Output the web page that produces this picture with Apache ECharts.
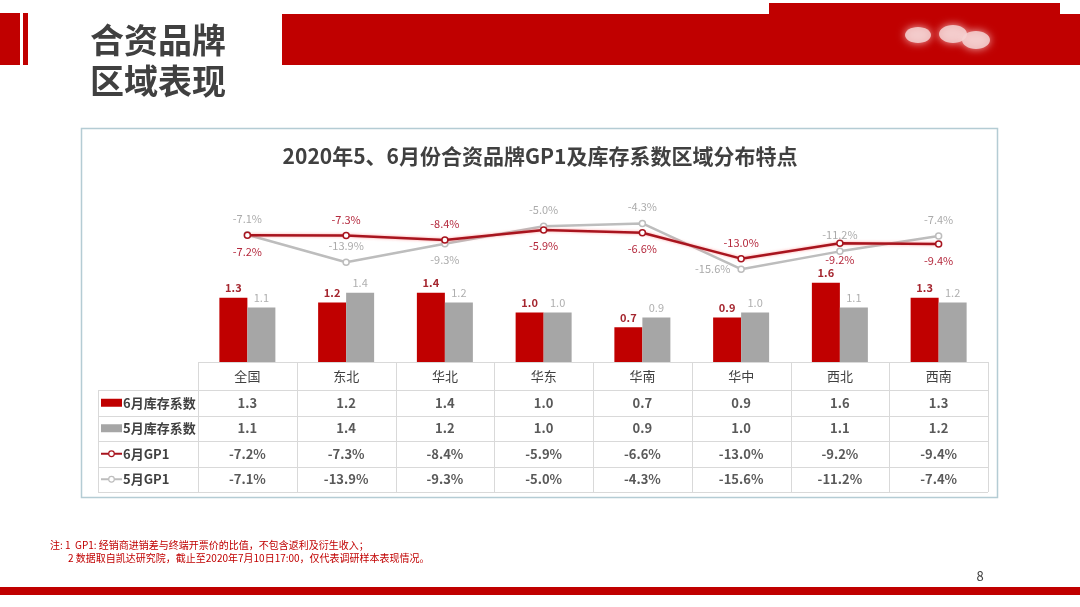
<!DOCTYPE html>
<html><head><meta charset="utf-8">
<script src="https://cdn.jsdelivr.net/npm/echarts@6/dist/echarts.min.js"></script>
<style>html,body{margin:0;padding:0;background:#fff}#c{width:1080px;height:607px}</style>
</head><body><div id="c"></div>
<script>
// ---------- data ----------
const categories = ['全国','东北','华北','华东','华南','华中','西北','西南'];
const stockJune = [1.3,1.2,1.4,1.0,0.7,0.9,1.6,1.3];
const stockMay  = [1.1,1.4,1.2,1.0,0.9,1.0,1.1,1.2];
const gp1June   = [-7.2,-7.3,-8.4,-5.9,-6.6,-13.0,-9.2,-9.4];
const gp1May    = [-7.1,-13.9,-9.3,-5.0,-4.3,-15.6,-11.2,-7.4];
const seriesNames = ['6月库存系数','5月库存系数','6月GP1','5月GP1'];
const chartTitle = '2020年5、6月份合资品牌GP1及库存系数区域分布特点';
const pageTitle = ['合资品牌','区域表现'];
const notes = ['注: 1  GP1: 经销商进销差与终端开票价的比值，不包含返利及衍生收入；',
               '2 数据取自凯达研究院，截止至2020年7月10日17:00，仅代表调研样本表现情况。'];
const pageNumber = '8';

// ---------- style ----------
const FONT = '"Noto Sans CJK SC","Microsoft YaHei",sans-serif';
const RED = '#C00000', GRAY = '#A6A6A6', LRED = '#A8141E', LGRAY = '#BDBDBD';
const gpJunePos = ['bottom','top','top','bottom','bottom','top','bottom','bottom'];
const gpMayPos  = ['top','top','bottom','top','top','left','top','top'];

const chart = echarts.init(document.getElementById('c'), null, {renderer:'canvas'});

function lineData(vals, pos){
  return vals.map((v,i)=>({value:v, label:{position:pos[i]}}));
}

const option = {
  backgroundColor:'#fff',
  animation:false,
  title:{text:chartTitle,left:'center',top:141,
    textStyle:{fontFamily:FONT,fontSize:21,fontWeight:'bold',color:'#404040'}},
  grid:[
    {left:198,right:92,top:164,bottom:245},
    {left:198,right:92,top:206,bottom:320}
  ],
  xAxis:[
    {type:'category',data:categories,gridIndex:0,show:false},
    {type:'category',data:categories,gridIndex:1,show:false}
  ],
  yAxis:[
    {type:'value',gridIndex:0,min:0,max:4,show:false},
    {type:'value',gridIndex:1,min:-20,max:0,show:false}
  ],
  series:[
    {name:seriesNames[0],type:'bar',xAxisIndex:0,yAxisIndex:0,data:stockJune,
      barWidth:28,barGap:'0%',itemStyle:{color:RED},
      label:{show:true,position:'top',distance:4,formatter:p=>p.value.toFixed(1),
        fontFamily:FONT,fontSize:11,fontWeight:'bold',color:'#A5262F'}},
    {name:seriesNames[1],type:'bar',xAxisIndex:0,yAxisIndex:0,data:stockMay,
      barWidth:28,barGap:'0%',itemStyle:{color:GRAY},
      label:{show:true,position:'top',distance:4,formatter:p=>p.value.toFixed(1),
        fontFamily:FONT,fontSize:11,color:'#AFAFAF'}},
    {name:seriesNames[3],type:'line',xAxisIndex:1,yAxisIndex:1,data:lineData(gp1May,gpMayPos),
      symbol:'circle',symbolSize:6,z:3,
      lineStyle:{color:LGRAY,width:2.5},
      itemStyle:{color:'#fff',borderColor:LGRAY,borderWidth:1.5},
      label:{show:true,distance:7,formatter:p=>p.value.toFixed(1)+'%',
        fontFamily:FONT,fontSize:11,color:'#ABABAB'}},
    {name:seriesNames[2],type:'line',xAxisIndex:1,yAxisIndex:1,data:lineData(gp1June,gpJunePos),
      symbol:'circle',symbolSize:6,z:4,
      lineStyle:{color:LRED,width:2.5,shadowColor:'rgba(255,120,120,0.7)',shadowBlur:3},
      itemStyle:{color:'#fff',borderColor:LRED,borderWidth:1.5},
      label:{show:true,distance:7,formatter:p=>p.value.toFixed(1)+'%',
        fontFamily:FONT,fontSize:11,color:'#B4283C'}}
  ]
};
chart.setOption(option);

// ---------- slide decoration + data table ----------
function txt(x,y,text,font,fill,align,va){
  return {type:'text',silent:true,z:10,style:{x,y,text,font,fill,
    align:align||'left',textAlign:align||'left',verticalAlign:va||'middle',textVerticalAlign:va||'middle'}};
}
function rect(x,y,w,h,fill,z){
  return {type:'rect',silent:true,z:z||1,shape:{x,y,width:w,height:h},style:{fill}};
}
function line(x1,y1,x2,y2,stroke,w){
  return {type:'line',silent:true,z:5,shape:{x1,y1,x2,y2},style:{stroke,lineWidth:w||1}};
}

const g = [];
// header bars
g.push(rect(0,13,20,52,RED));
g.push(rect(23,13,5,52,RED));
g.push(rect(282,14,798,51,RED));
g.push(rect(769,3,291,12,RED));
// soft blobs on banner
[[918,35,13,8],[953,34,14,9],[976,40,14,9]].forEach(b=>{
  g.push({type:'ellipse',silent:true,z:2,shape:{cx:b[0],cy:b[1],rx:b[2],ry:b[3]},
    style:{fill:'rgba(245,210,210,0.85)',shadowColor:'rgba(255,230,230,0.9)',shadowBlur:8}});
});
// page title
g.push(txt(90,40,pageTitle[0],'bold 34px '+FONT,'#404040'));
g.push(txt(90,81,pageTitle[1],'bold 34px '+FONT,'#404040'));
// chart frame
g.push({type:'rect',silent:true,z:0,shape:{x:81.5,y:128.5,width:916,height:369},
  style:{fill:'none',stroke:'#B4CCD4',lineWidth:1.5}});
// footnotes
g.push(txt(50,545,notes[0],'10px '+FONT,RED));
g.push(txt(68,558,notes[1],'10px '+FONT,RED));
g.push(txt(980,576,pageNumber,'13px '+FONT,'#404040','center'));
// bottom bar
g.push(rect(0,587,1080,8,RED));

// table geometry derived from the category axis
const cx = categories.map((c,i)=>chart.convertToPixel({xAxisIndex:0},i));
const colW = cx[1]-cx[0];
const tX0 = cx[0]-colW/2, tX1 = cx[cx.length-1]+colW/2;
const tTop = chart.convertToPixel({yAxisIndex:0},0);
const hdrH = 28, rowH = 25.5, legX = 98;
const rowsY = [0,1,2,3,4].map(i=>tTop+hdrH+i*rowH);
const LC = '#D9D9D9';
g.push(line(tX0,tTop+0.5,tX1,tTop+0.5,LC));
rowsY.forEach(y=>g.push(line(legX,Math.round(y)+0.5,tX1,Math.round(y)+0.5,LC)));
for(let i=0;i<=categories.length;i++){
  const x = Math.round(tX0+i*colW)+0.5;
  g.push(line(x,tTop,x,rowsY[4],LC));
}
g.push(line(legX+0.5,rowsY[0],legX+0.5,rowsY[4],LC));
// header
categories.forEach((c,i)=>g.push(txt(cx[i],tTop+hdrH/2,c,'13px '+FONT,'#404040','center')));
// rows
const rows = [
  stockJune.map(v=>v.toFixed(1)),
  stockMay.map(v=>v.toFixed(1)),
  gp1June.map(v=>v.toFixed(1)+'%'),
  gp1May.map(v=>v.toFixed(1)+'%')
];
rows.forEach((r,ri)=>{
  const yc = rowsY[ri]+rowH/2;
  r.forEach((s,i)=>g.push(txt(cx[i],yc,s,'bold 13px '+FONT,'#595959','center')));
  // legend cell
  g.push(txt(123,yc,seriesNames[ri],'bold 13px '+FONT,'#404040'));
  if(ri<2){
    g.push(rect(101,yc-4,21,8,ri===0?RED:GRAY,6));
  } else {
    const col = ri===2?LRED:LGRAY;
    g.push(line(101,yc,122,yc,col,2));
    g.push({type:'circle',silent:true,z:7,shape:{cx:111.5,cy:yc,r:2.8},
      style:{fill:'#fff',stroke:col,lineWidth:1.2}});
  }
});

chart.setOption({graphic:{elements:g}});
</script>
</body></html>
